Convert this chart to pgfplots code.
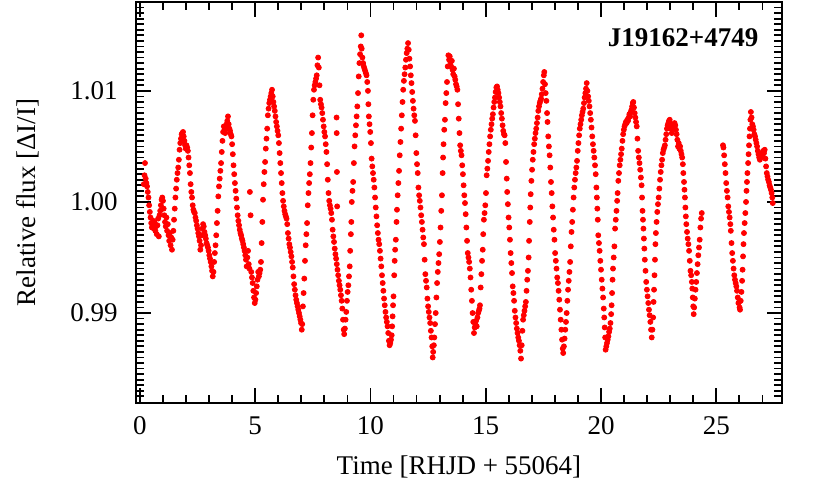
\documentclass[border=0pt]{standalone}
\usepackage{fontspec}
\setmainfont{Liberation Serif}
\usepackage{pgfplots}
\usepackage{pgfplotstable}
\pgfplotsset{compat=1.18}

% time [d], flux offset in parts per thousand (flux = 1 + f/1000)
\pgfplotstableread[row sep=\\]{
t f \\
0.17 1.6 \\ 0.20 2.4 \\ 0.22 3.5 \\ 0.25 2.1 \\ 0.28 1.7 \\ 0.31 1.4 \\ 0.34 0.9 \\ 0.37 0.4 \\ 0.40 -0.3 \\ 0.43 -0.9 \\
0.46 -1.4 \\ 0.49 -1.9 \\ 0.52 -2.3 \\ 0.55 -2.1 \\ 0.58 -1.7 \\ 0.61 -2.4 \\ 0.64 -1.9 \\ 0.67 -2.6 \\ 0.70 -2.2 \\ 0.73 -2.9 \\
0.76 -2.1 \\ 0.79 -1.5 \\ 0.82 -3.1 \\ 0.85 -1.2 \\ 0.88 -0.8 \\ 0.91 -0.3 \\ 0.94 0.2 \\ 0.97 0.4 \\ 1.00 0.1 \\ 1.03 -0.6 \\
1.06 -1.2 \\ 1.09 -1.8 \\ 1.12 -2.2 \\ 1.15 -1.4 \\ 1.18 -2.6 \\ 1.21 -2.0 \\ 1.24 -3.0 \\ 1.27 -3.5 \\ 1.30 -2.8 \\ 1.33 -3.9 \\
1.36 -3.2 \\ 1.39 -4.3 \\ 1.42 -3.4 \\ 1.45 -2.6 \\ 1.48 -1.6 \\ 1.51 -0.6 \\ 1.54 0.4 \\ 1.57 1.2 \\ 1.60 2.0 \\ 1.63 2.6 \\
1.66 3.1 \\ 1.69 3.8 \\ 1.72 4.7 \\ 1.75 5.3 \\ 1.78 5.7 \\ 1.81 6.1 \\ 1.84 6.2 \\ 1.87 6.3 \\ 1.90 5.9 \\ 1.93 5.5 \\
1.96 5.1 \\ 1.99 4.8 \\ 2.02 5.1 \\ 2.05 4.9 \\ 2.08 4.6 \\ 2.11 4.0 \\ 2.14 3.3 \\ 2.17 2.6 \\ 2.20 1.6 \\ 2.23 0.9 \\
2.26 0.4 \\ 2.29 -0.3 \\ 2.32 -0.7 \\ 2.35 -0.9 \\ 2.38 -1.0 \\ 2.41 -1.4 \\ 2.44 -1.7 \\ 2.47 -2.1 \\ 2.50 -2.4 \\ 2.53 -2.8 \\
2.56 -3.1 \\ 2.59 -3.5 \\ 2.62 -4.3 \\ 2.65 -3.9 \\ 2.68 -3.0 \\ 2.71 -2.4 \\ 2.74 -2.0 \\ 2.77 -2.2 \\ 2.80 -2.7 \\ 2.83 -3.0 \\
2.86 -3.3 \\ 2.89 -3.7 \\ 2.92 -3.9 \\ 2.95 -4.1 \\ 2.98 -4.4 \\ 3.01 -4.8 \\ 3.04 -5.1 \\ 3.07 -5.4 \\ 3.10 -5.8 \\ 3.13 -6.2 \\
3.16 -6.7 \\ 3.19 -6.3 \\ 3.22 -5.4 \\ 3.25 -4.6 \\ 3.28 -3.9 \\ 3.31 -3.0 \\ 3.34 -1.9 \\ 3.37 -0.8 \\ 3.40 0.5 \\ 3.43 1.4 \\
3.46 2.1 \\ 3.49 2.8 \\ 3.52 3.5 \\ 3.55 4.5 \\ 3.58 5.5 \\ 3.61 6.3 \\ 3.64 6.8 \\ 3.67 6.5 \\ 3.70 6.2 \\ 3.73 6.6 \\
3.76 7.0 \\ 3.79 7.3 \\ 3.82 7.7 \\ 3.85 7.0 \\ 3.88 6.6 \\ 3.91 6.4 \\ 3.94 6.1 \\ 3.97 5.9 \\ 4.00 5.2 \\ 4.03 4.3 \\
4.06 3.3 \\ 4.09 2.5 \\ 4.12 1.7 \\ 4.15 1.0 \\ 4.18 0.3 \\ 4.21 -0.5 \\ 4.24 -1.2 \\ 4.27 -1.7 \\ 4.30 -2.1 \\ 4.33 -2.5 \\
4.36 -2.8 \\ 4.39 -3.0 \\ 4.42 -3.3 \\ 4.45 -3.5 \\ 4.48 -3.8 \\ 4.51 -4.1 \\ 4.54 -4.4 \\ 4.57 -4.8 \\ 4.60 -5.2 \\ 4.63 -5.8 \\
4.66 -5.0 \\ 4.69 -4.4 \\ 4.72 -5.6 \\ 4.75 -6.0 \\ 4.77 0.9 \\ 4.80 -1.2 \\ 4.83 -6.3 \\ 4.86 -6.8 \\ 4.89 -7.3 \\ 4.92 -8.0 \\
4.95 -8.6 \\ 4.98 -9.1 \\ 5.01 -8.8 \\ 5.04 -8.2 \\ 5.07 -7.6 \\ 5.10 -7.0 \\ 5.13 -6.3 \\ 5.16 -6.7 \\ 5.19 -6.4 \\ 5.22 -6.1 \\
5.25 -5.4 \\ 5.28 -3.7 \\ 5.31 -1.8 \\ 5.34 0.2 \\ 5.37 1.6 \\ 5.40 2.7 \\ 5.43 3.6 \\ 5.46 4.8 \\ 5.49 5.7 \\ 5.52 6.6 \\
5.55 7.8 \\ 5.58 8.4 \\ 5.61 8.9 \\ 5.64 9.2 \\ 5.67 9.5 \\ 5.70 9.8 \\ 5.73 10.1 \\ 5.76 9.5 \\ 5.79 9.0 \\ 5.82 8.6 \\
5.85 8.2 \\ 5.88 7.7 \\ 5.91 7.2 \\ 5.94 6.8 \\ 5.97 6.4 \\ 6.00 6.0 \\ 6.03 5.3 \\ 6.06 4.4 \\ 6.09 3.5 \\ 6.12 2.6 \\
6.15 1.7 \\ 6.18 0.8 \\ 6.21 0.1 \\ 6.24 -0.4 \\ 6.27 -0.8 \\ 6.30 -1.1 \\ 6.33 -1.3 \\ 6.36 -1.5 \\ 6.39 -2.0 \\ 6.42 -2.8 \\
6.45 -3.3 \\ 6.48 -3.8 \\ 6.51 -4.1 \\ 6.54 -4.5 \\ 6.57 -4.9 \\ 6.60 -5.4 \\ 6.63 -5.9 \\ 6.66 -6.7 \\ 6.69 -7.4 \\ 6.72 -7.9 \\
6.75 -8.4 \\ 6.78 -8.8 \\ 6.81 -9.1 \\ 6.84 -9.4 \\ 6.87 -9.7 \\ 6.90 -10.0 \\ 6.93 -10.3 \\ 6.96 -10.6 \\ 6.99 -10.9 \\ 7.02 -11.5 \\
7.04 -11.0 \\ 7.07 -9.4 \\ 7.10 -8.2 \\ 7.13 -6.9 \\ 7.16 -5.3 \\ 7.19 -3.9 \\ 7.22 -2.9 \\ 7.25 -1.9 \\ 7.28 -0.3 \\ 7.31 0.8 \\
7.34 1.7 \\ 7.37 2.5 \\ 7.40 3.5 \\ 7.43 4.9 \\ 7.46 6.2 \\ 7.49 7.8 \\ 7.52 9.2 \\ 7.55 10.1 \\ 7.58 10.5 \\ 7.61 10.8 \\
7.64 11.1 \\ 7.67 11.4 \\ 7.70 12.3 \\ 7.73 13.0 \\ 7.76 12.1 \\ 7.79 10.5 \\ 7.82 9.2 \\ 7.85 8.8 \\ 7.88 8.5 \\ 7.91 8.0 \\
7.94 7.4 \\ 7.97 6.8 \\ 8.00 6.3 \\ 8.03 5.9 \\ 8.06 5.2 \\ 8.09 4.5 \\ 8.12 3.4 \\ 8.15 2.0 \\ 8.18 0.8 \\ 8.21 0.1 \\
8.24 -0.3 \\ 8.27 -0.6 \\ 8.30 -1.0 \\ 8.33 -1.6 \\ 8.36 -2.5 \\ 8.39 -3.1 \\ 8.42 -3.6 \\ 8.45 -4.2 \\ 8.48 -4.7 \\ 8.51 -5.1 \\
8.54 -5.6 \\ 8.57 -6.1 \\ 8.60 -6.6 \\ 8.63 -7.1 \\ 8.66 -7.5 \\ 8.69 -7.9 \\ 8.72 -8.4 \\ 8.75 -8.9 \\ 8.78 -9.6 \\ 8.81 -10.6 \\
8.84 -11.5 \\ 8.86 -11.9 \\ 8.89 -11.4 \\ 8.92 -10.6 \\ 8.95 -9.9 \\ 8.98 -8.9 \\ 9.01 -8.1 \\ 9.04 -7.5 \\ 9.07 -6.7 \\ 9.10 -5.8 \\
9.12 -4.4 \\ 9.15 -2.9 \\ 9.17 -1.8 \\ 9.19 0.0 \\ 9.22 1.0 \\ 9.25 1.8 \\ 9.28 3.5 \\ 9.31 5.0 \\ 9.34 6.0 \\ 9.37 6.9 \\
9.40 7.7 \\ 9.43 8.6 \\ 9.46 9.8 \\ 9.49 11.3 \\ 9.52 12.5 \\ 9.55 13.3 \\ 9.58 14.0 \\ 9.60 15.0 \\ 9.62 13.8 \\ 9.65 13.0 \\
9.68 12.5 \\ 9.71 12.2 \\ 9.74 12.0 \\ 9.77 11.8 \\ 9.80 11.6 \\ 9.83 11.4 \\ 9.86 10.8 \\ 9.89 10.0 \\ 9.91 8.8 \\ 9.93 7.7 \\
9.96 7.0 \\ 9.99 6.3 \\ 10.02 5.3 \\ 10.05 3.9 \\ 10.08 3.2 \\ 10.11 2.6 \\ 10.14 2.0 \\ 10.17 1.3 \\ 10.20 0.4 \\ 10.23 -0.5 \\
10.26 -1.3 \\ 10.29 -2.1 \\ 10.32 -2.8 \\ 10.35 -3.4 \\ 10.38 -3.8 \\ 10.41 -4.4 \\ 10.44 -5.1 \\ 10.47 -5.8 \\ 10.50 -6.6 \\ 10.53 -7.3 \\
10.56 -8.0 \\ 10.59 -8.7 \\ 10.62 -9.3 \\ 10.65 -9.9 \\ 10.68 -10.4 \\ 10.71 -10.8 \\ 10.74 -11.2 \\ 10.77 -11.8 \\ 10.80 -12.5 \\ 10.83 -12.9 \\
10.86 -12.7 \\ 10.89 -12.4 \\ 10.92 -12.0 \\ 10.94 -11.2 \\ 10.96 -10.3 \\ 10.98 -9.3 \\ 11.00 -8.5 \\ 11.03 -6.6 \\ 11.05 -5.3 \\ 11.07 -4.3 \\
11.10 -3.4 \\ 11.13 -1.8 \\ 11.15 -0.7 \\ 11.18 0.6 \\ 11.21 1.7 \\ 11.24 2.8 \\ 11.27 4.2 \\ 11.30 5.4 \\ 11.33 6.6 \\ 11.36 7.8 \\
11.39 9.0 \\ 11.42 10.1 \\ 11.45 10.9 \\ 11.48 11.5 \\ 11.51 12.1 \\ 11.54 12.8 \\ 11.57 13.4 \\ 11.60 13.8 \\ 11.63 14.3 \\ 11.66 13.7 \\
11.69 12.9 \\ 11.72 12.2 \\ 11.75 11.4 \\ 11.78 10.7 \\ 11.81 9.9 \\ 11.84 9.1 \\ 11.87 8.4 \\ 11.90 7.8 \\ 11.93 7.3 \\ 11.96 6.0 \\
11.99 4.4 \\ 12.02 3.4 \\ 12.05 2.6 \\ 12.08 1.3 \\ 12.11 0.6 \\ 12.14 0.1 \\ 12.17 -0.5 \\ 12.20 -1.2 \\ 12.23 -1.8 \\ 12.26 -2.5 \\
12.29 -3.2 \\ 12.32 -3.8 \\ 12.35 -5.2 \\ 12.38 -6.5 \\ 12.41 -7.1 \\ 12.44 -7.7 \\ 12.47 -8.7 \\ 12.50 -9.4 \\ 12.53 -9.9 \\ 12.56 -10.4 \\
12.59 -10.9 \\ 12.62 -11.6 \\ 12.65 -12.2 \\ 12.68 -13.0 \\ 12.70 -14.0 \\ 12.72 -13.5 \\ 12.75 -12.9 \\ 12.77 -12.2 \\ 12.80 -11.0 \\ 12.83 -10.0 \\
12.86 -8.6 \\ 12.89 -7.3 \\ 12.92 -6.3 \\ 12.95 -5.5 \\ 12.98 -4.7 \\ 13.01 -3.6 \\ 13.04 -2.3 \\ 13.07 -0.8 \\ 13.10 0.6 \\ 13.13 2.6 \\
13.15 4.0 \\ 13.17 5.2 \\ 13.20 6.5 \\ 13.23 7.4 \\ 13.26 8.9 \\ 13.29 9.8 \\ 13.32 10.8 \\ 13.35 12.2 \\ 13.38 13.2 \\ 13.41 12.8 \\
13.44 13.1 \\ 13.47 12.6 \\ 13.50 12.2 \\ 13.53 12.7 \\ 13.56 11.9 \\ 13.59 11.5 \\ 13.62 12.0 \\ 13.65 11.3 \\ 13.68 11.0 \\ 13.71 10.6 \\
13.74 10.4 \\ 13.77 10.1 \\ 13.80 8.8 \\ 13.83 7.5 \\ 13.86 6.2 \\ 13.89 5.1 \\ 13.92 4.6 \\ 13.95 4.2 \\ 13.98 3.3 \\ 14.01 2.5 \\
14.04 1.5 \\ 14.07 0.6 \\ 14.10 -0.1 \\ 14.13 -1.1 \\ 14.16 -2.3 \\ 14.19 -3.5 \\ 14.22 -4.6 \\ 14.25 -5.0 \\ 14.28 -5.4 \\ 14.31 -6.0 \\
14.34 -6.8 \\ 14.37 -7.9 \\ 14.40 -8.9 \\ 14.43 -10.0 \\ 14.46 -10.8 \\ 14.49 -11.8 \\ 14.52 -11.3 \\ 14.55 -11.0 \\ 14.58 -10.7 \\ 14.61 -11.2 \\
14.64 -10.4 \\ 14.67 -10.0 \\ 14.70 -9.8 \\ 14.73 -9.6 \\ 14.75 -9.3 \\ 14.78 -7.7 \\ 14.81 -6.5 \\ 14.84 -5.3 \\ 14.87 -4.3 \\ 14.89 -2.9 \\
14.92 -1.6 \\ 14.95 -1.0 \\ 14.98 -0.3 \\ 15.01 0.8 \\ 15.04 2.4 \\ 15.07 3.0 \\ 15.10 3.7 \\ 15.13 4.5 \\ 15.16 5.2 \\ 15.19 5.9 \\
15.22 6.5 \\ 15.25 7.0 \\ 15.28 7.5 \\ 15.31 7.9 \\ 15.34 8.5 \\ 15.37 9.0 \\ 15.40 9.4 \\ 15.43 9.9 \\ 15.46 10.3 \\ 15.49 10.4 \\
15.52 10.1 \\ 15.55 9.8 \\ 15.58 9.4 \\ 15.61 9.0 \\ 15.64 8.6 \\ 15.67 8.0 \\ 15.70 7.5 \\ 15.73 6.9 \\ 15.76 6.4 \\ 15.79 6.1 \\
15.82 6.0 \\ 15.85 5.3 \\ 15.88 3.6 \\ 15.91 2.1 \\ 15.93 0.9 \\ 15.96 -0.2 \\ 15.99 -1.4 \\ 16.02 -2.3 \\ 16.05 -3.4 \\ 16.08 -4.6 \\
16.11 -5.5 \\ 16.14 -6.4 \\ 16.17 -7.6 \\ 16.20 -8.2 \\ 16.23 -8.9 \\ 16.26 -9.8 \\ 16.29 -10.4 \\ 16.32 -10.9 \\ 16.35 -11.4 \\ 16.38 -11.8 \\
16.41 -12.2 \\ 16.44 -12.5 \\ 16.47 -12.9 \\ 16.50 -13.4 \\ 16.53 -14.1 \\ 16.56 -12.9 \\ 16.59 -11.6 \\ 16.62 -10.6 \\ 16.65 -10.2 \\ 16.68 -9.8 \\
16.71 -9.4 \\ 16.74 -9.0 \\ 16.77 -8.0 \\ 16.80 -7.0 \\ 16.83 -6.2 \\ 16.86 -5.0 \\ 16.88 -3.5 \\ 16.91 -1.8 \\ 16.93 -0.5 \\ 16.95 0.7 \\
16.98 1.9 \\ 17.01 2.9 \\ 17.04 3.8 \\ 17.07 4.5 \\ 17.10 5.2 \\ 17.13 5.7 \\ 17.16 6.2 \\ 17.19 6.6 \\ 17.22 7.1 \\ 17.25 7.6 \\
17.28 8.2 \\ 17.31 8.6 \\ 17.34 8.9 \\ 17.37 9.1 \\ 17.40 9.3 \\ 17.43 9.7 \\ 17.46 10.2 \\ 17.49 10.8 \\ 17.52 11.4 \\ 17.54 11.7 \\
17.57 10.6 \\ 17.60 9.8 \\ 17.63 9.1 \\ 17.66 8.0 \\ 17.68 7.2 \\ 17.71 5.9 \\ 17.74 5.0 \\ 17.77 4.2 \\ 17.80 3.1 \\ 17.83 1.8 \\
17.86 0.8 \\ 17.89 -0.4 \\ 17.92 -1.4 \\ 17.95 -2.5 \\ 17.98 -3.4 \\ 18.01 -4.6 \\ 18.04 -5.3 \\ 18.07 -6.0 \\ 18.10 -6.8 \\ 18.13 -7.3 \\
18.16 -8.0 \\ 18.19 -8.8 \\ 18.22 -9.7 \\ 18.25 -10.6 \\ 18.28 -11.5 \\ 18.31 -12.4 \\ 18.34 -13.2 \\ 18.36 -13.6 \\ 18.39 -13.0 \\ 18.42 -12.3 \\
18.45 -11.5 \\ 18.48 -10.8 \\ 18.51 -10.0 \\ 18.54 -8.9 \\ 18.57 -7.9 \\ 18.60 -7.1 \\ 18.63 -6.3 \\ 18.66 -5.4 \\ 18.69 -4.0 \\ 18.72 -2.7 \\
18.75 -1.8 \\ 18.78 -0.7 \\ 18.81 0.4 \\ 18.84 1.3 \\ 18.87 2.0 \\ 18.90 2.6 \\ 18.93 3.1 \\ 18.96 3.7 \\ 18.99 4.6 \\ 19.02 5.3 \\
19.05 6.0 \\ 19.08 6.6 \\ 19.11 7.0 \\ 19.14 7.4 \\ 19.17 7.8 \\ 19.20 8.1 \\ 19.23 8.4 \\ 19.26 8.9 \\ 19.29 9.4 \\ 19.32 9.8 \\
19.35 10.2 \\ 19.38 10.7 \\ 19.41 10.0 \\ 19.44 9.5 \\ 19.47 9.1 \\ 19.50 8.6 \\ 19.53 8.0 \\ 19.56 7.4 \\ 19.59 6.7 \\ 19.62 5.9 \\
19.65 5.2 \\ 19.68 4.6 \\ 19.71 4.0 \\ 19.74 3.3 \\ 19.77 2.5 \\ 19.80 1.3 \\ 19.82 0.4 \\ 19.84 -0.6 \\ 19.86 -1.6 \\ 19.88 -3.0 \\
19.91 -3.7 \\ 19.94 -4.4 \\ 19.97 -5.3 \\ 20.00 -6.1 \\ 20.03 -7.0 \\ 20.06 -7.8 \\ 20.09 -8.6 \\ 20.12 -9.6 \\ 20.14 -10.4 \\ 20.16 -11.3 \\
20.18 -12.2 \\ 20.20 -13.3 \\ 20.23 -13.0 \\ 20.26 -12.7 \\ 20.29 -12.4 \\ 20.32 -12.1 \\ 20.35 -11.7 \\ 20.38 -11.4 \\ 20.41 -10.9 \\ 20.44 -10.1 \\
20.46 -9.3 \\ 20.48 -8.2 \\ 20.50 -7.0 \\ 20.52 -6.0 \\ 20.55 -5.0 \\ 20.58 -4.0 \\ 20.61 -2.4 \\ 20.64 -1.6 \\ 20.67 -0.8 \\ 20.70 0.1 \\
20.72 0.8 \\ 20.75 1.9 \\ 20.78 2.6 \\ 20.81 3.3 \\ 20.84 3.8 \\ 20.87 4.3 \\ 20.90 4.8 \\ 20.93 5.5 \\ 20.96 6.1 \\ 20.99 6.5 \\
21.02 6.8 \\ 21.05 7.0 \\ 21.08 7.2 \\ 21.11 7.1 \\ 21.14 7.4 \\ 21.17 7.3 \\ 21.20 7.6 \\ 21.23 7.9 \\ 21.26 7.7 \\ 21.29 8.1 \\
21.32 8.3 \\ 21.35 8.6 \\ 21.38 8.9 \\ 21.40 9.0 \\ 21.43 8.5 \\ 21.46 8.0 \\ 21.49 7.6 \\ 21.52 7.2 \\ 21.55 6.8 \\ 21.58 5.7 \\
21.61 4.6 \\ 21.64 4.0 \\ 21.67 3.5 \\ 21.70 2.9 \\ 21.73 2.2 \\ 21.76 1.5 \\ 21.78 0.4 \\ 21.80 -0.8 \\ 21.82 -1.6 \\ 21.84 -2.4 \\
21.86 -3.3 \\ 21.88 -4.2 \\ 21.90 -5.2 \\ 21.93 -6.2 \\ 21.96 -7.2 \\ 21.99 -7.9 \\ 22.02 -8.5 \\ 22.05 -9.1 \\ 22.08 -9.7 \\ 22.11 -10.2 \\
22.14 -10.8 \\ 22.17 -11.5 \\ 22.20 -12.2 \\ 22.23 -11.5 \\ 22.26 -10.4 \\ 22.28 -9.0 \\ 22.30 -7.9 \\ 22.32 -6.6 \\ 22.34 -5.2 \\ 22.36 -3.8 \\
22.38 -2.8 \\ 22.41 -1.8 \\ 22.44 -0.9 \\ 22.47 -0.2 \\ 22.50 0.4 \\ 22.53 1.2 \\ 22.56 2.0 \\ 22.59 2.7 \\ 22.62 3.3 \\ 22.65 3.8 \\
22.68 4.4 \\ 22.71 4.7 \\ 22.74 4.9 \\ 22.77 5.1 \\ 22.80 5.6 \\ 22.83 6.1 \\ 22.86 6.6 \\ 22.89 6.9 \\ 22.92 7.1 \\ 22.95 7.3 \\
22.98 7.4 \\ 23.01 7.0 \\ 23.04 6.6 \\ 23.07 6.2 \\ 23.10 6.6 \\ 23.13 6.9 \\ 23.16 6.8 \\ 23.19 7.1 \\ 23.22 6.9 \\ 23.25 6.5 \\
23.28 6.1 \\ 23.31 5.6 \\ 23.34 5.0 \\ 23.37 5.3 \\ 23.40 4.8 \\ 23.43 5.0 \\ 23.46 4.6 \\ 23.49 4.3 \\ 23.52 4.0 \\ 23.55 3.4 \\
23.57 2.6 \\ 23.60 1.8 \\ 23.62 1.1 \\ 23.64 0.4 \\ 23.66 -0.5 \\ 23.68 -1.3 \\ 23.70 -2.0 \\ 23.73 -2.7 \\ 23.76 -3.3 \\ 23.79 -3.8 \\
23.82 -4.4 \\ 23.85 -5.3 \\ 23.88 -6.2 \\ 23.91 -6.6 \\ 23.94 -7.2 \\ 23.96 -7.8 \\ 23.98 -8.6 \\ 24.00 -9.4 \\ 24.02 -10.1 \\ 24.04 -9.5 \\
24.07 -8.7 \\ 24.10 -7.9 \\ 24.13 -7.2 \\ 24.16 -6.4 \\ 24.19 -5.6 \\ 24.22 -4.8 \\ 24.25 -4.1 \\ 24.28 -3.4 \\ 24.31 -2.3 \\ 24.34 -1.5 \\
24.37 -1.0 \\
25.29 5.1 \\ 25.31 4.9 \\ 25.34 4.2 \\ 25.37 3.4 \\ 25.40 2.6 \\ 25.43 1.7 \\ 25.46 1.0 \\ 25.49 0.4 \\ 25.52 -0.4 \\ 25.55 -0.9 \\
25.58 -1.4 \\ 25.61 -2.0 \\ 25.63 -2.6 \\ 25.66 -3.7 \\ 25.69 -4.6 \\ 25.72 -5.3 \\ 25.75 -6.0 \\ 25.78 -6.6 \\ 25.81 -7.0 \\ 25.84 -7.3 \\
25.87 -7.6 \\ 25.90 -8.0 \\ 25.93 -8.6 \\ 25.96 -9.1 \\ 25.99 -9.0 \\ 26.01 -9.5 \\ 26.03 -9.7 \\ 26.06 -8.9 \\ 26.09 -8.1 \\ 26.12 -7.1 \\
26.14 -6.1 \\ 26.16 -4.9 \\ 26.18 -3.8 \\ 26.20 -2.8 \\ 26.23 -1.9 \\ 26.26 -1.0 \\ 26.29 0.0 \\ 26.31 1.0 \\ 26.33 1.8 \\ 26.35 2.6 \\
26.38 3.5 \\ 26.40 4.3 \\ 26.42 5.1 \\ 26.44 5.9 \\ 26.46 6.6 \\ 26.48 7.4 \\ 26.50 8.1 \\ 26.53 7.6 \\ 26.56 7.0 \\ 26.59 6.8 \\
26.62 6.5 \\ 26.65 6.1 \\ 26.68 5.9 \\ 26.71 5.6 \\ 26.74 5.3 \\ 26.77 5.0 \\ 26.80 4.6 \\ 26.83 4.3 \\ 26.86 4.0 \\ 26.89 3.8 \\
26.92 4.0 \\ 26.95 4.3 \\ 26.98 4.4 \\ 27.01 4.1 \\ 27.04 4.6 \\ 27.07 4.4 \\ 27.10 4.7 \\ 27.13 3.9 \\ 27.16 3.2 \\ 27.19 2.6 \\
27.22 2.3 \\ 27.25 2.0 \\ 27.28 1.8 \\ 27.31 1.5 \\ 27.34 1.3 \\ 27.37 1.1 \\ 27.40 0.8 \\ 27.43 0.4 \\ 27.45 -0.1 \\
8.53 7.6 \\ 8.535 6.2 \\ 8.545 2.7 \\ 8.555 -0.4 \\
}\lightcurve

\begin{document}
\fontsize{13.5}{16}\selectfont
\begin{tikzpicture}
\path[use as bounding box] (-68pt,-40.5pt) rectangle (347pt,201.5pt);
\begin{axis}[
    at={(0,0)}, anchor=south west,
    scale only axis,
    width=323pt, height=200.5pt,
    xmin=-0.17, xmax=27.85,
    ymin=0.9819, ymax=1.0180,
    xtick={0,5,...,25},
    minor xtick={1,2,3,4,6,7,8,9,11,12,13,14,16,17,18,19,21,22,23,24,26,27},
    ytick={0.99,1.00,1.01},
    yticklabels={0.99,1.00,1.01},
    minor ytick={0.9825,0.983,...,1.018},
    scaled y ticks=false,
    tick align=inside,
    major tick length=7.5pt,
    minor tick length=4pt,
    tick style={black, line width=0.9pt},
    axis line style={line width=1.3pt},
    /pgf/number format/assume math mode=true,
    xticklabel style={inner sep=0pt, yshift=-6.5pt},
    yticklabel style={inner sep=0pt, xshift=-9pt},
    xlabel={Time [RHJD + 55064]},
    ylabel={Relative flux [ΔI/I]},
    xlabel style={at={(axis description cs:0.5,-0.178)}, anchor=base},
    ylabel style={at={(axis description cs:-0.155,0.5)}, anchor=base},
]
\addplot[only marks, mark=*, mark size=1.25pt, color=red]
    table[x=t, y expr=1+\thisrow{f}/1000] {\lightcurve};
\node[anchor=north east, inner sep=0pt, font=\bfseries]
    at (rel axis cs:0.964,0.935) {J19162+4749};
\end{axis}
\end{tikzpicture}
\end{document}
